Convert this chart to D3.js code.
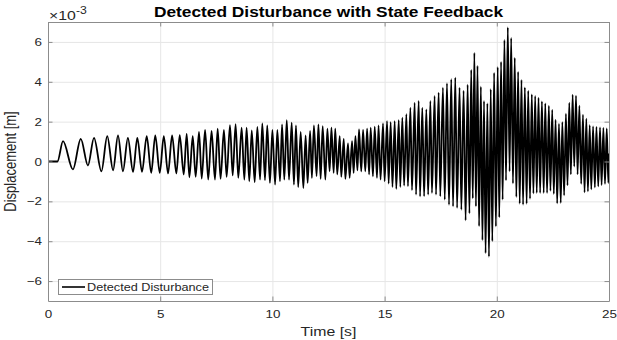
<!DOCTYPE html>
<html>
<head>
<meta charset="utf-8">
<script src="https://cdn.jsdelivr.net/npm/d3@7"></script>
<style>
  body { margin: 0; background: #fff; }
  svg { font-family: "Liberation Sans", Arial, sans-serif; }
</style>
</head>
<body>
<div id="chart"></div>
<script>
// Axis ticks
const xTicks = [0, 5, 10, 15, 20, 25];
const yTicks = [-6, -4, -2, 0, 2, 4, 6];

// Detected disturbance, values in 1e-3 m
// flat start and last sample
const restT = [0, 0.42];
const restV = [0, 0];
const endT = [25];
const endV = [0.4];

// peaks of each oscillation
const peakT = [
  0.67, 1.46, 2.05, 2.64, 3.12, 3.56, 3.98, 4.40, 4.78, 5.16, 5.53, 5.87,
  6.18, 6.45, 6.73, 7.00, 7.29, 7.56, 7.84, 8.11, 8.36, 8.63, 8.85, 9.08, 9.33, 9.55,
  9.77, 10.00, 10.22, 10.43, 10.64, 10.86, 11.05, 11.26, 11.48, 11.68, 11.85, 12.05, 12.24, 12.45,
  12.63, 12.80, 13.00, 13.18, 13.37, 13.55, 13.70, 13.86, 14.04, 14.22, 14.38, 14.56,
  14.73, 14.93, 15.11, 15.27, 15.45, 15.63, 15.79, 15.97, 16.15, 16.34, 16.52, 16.68,
  16.86, 17.04, 17.23, 17.41, 17.60, 17.78, 17.97, 18.15, 18.34, 18.52, 18.70,
  18.86, 19.00, 19.14, 19.29, 19.43, 19.58, 19.73, 19.88, 20.04, 20.19, 20.34, 20.49,
  20.64, 20.80, 20.95, 21.10, 21.25, 21.40, 21.56, 21.71, 21.86, 22.01, 22.16, 22.32,
  22.47, 22.62, 22.77, 22.92, 23.08, 23.23, 23.38, 23.53, 23.68, 23.84, 23.99, 24.14,
  24.29, 24.44, 24.60, 24.75, 24.90
];
const peakV = [
  1.02, 1.14, 1.19, 1.27, 1.31, 1.19, 1.19, 1.27, 1.31, 1.27, 1.31, 1.32,
  1.39, 1.27, 1.49, 1.58, 1.53, 1.65, 1.58, 1.83, 1.88, 1.70, 1.70, 1.56, 1.73, 1.91,
  1.81, 1.58, 1.58, 1.86, 2.08, 1.95, 1.81, 1.49, 1.31, 1.53, 1.81, 1.86, 1.78, 1.65,
  1.70, 1.65, 1.27, 1.14, 0.91, 1.02, 1.27, 1.61, 1.58, 1.65, 1.70, 1.75,
  1.81, 1.91, 2.03, 1.98, 2.03, 2.08, 2.20, 2.37, 2.70, 2.95, 3.04, 2.70,
  2.62, 3.04, 3.29, 3.46, 3.71, 3.93, 4.13, 4.21, 3.71, 3.55, 3.85,
  4.60, 5.45, 4.80, 3.75, 3.04, 2.92, 3.63, 4.45, 4.74, 5.00, 6.10, 6.73,
  6.20, 5.20, 4.50, 4.10, 3.72, 3.55, 3.37, 3.29, 3.20, 3.02, 2.92, 2.80,
  2.60, 2.10, 1.90, 1.98, 2.40, 2.95, 3.35, 3.30, 2.80, 2.35, 2.15, 1.82,
  1.76, 1.74, 1.71, 1.69, 1.66
];

// troughs of each oscillation
const troughT = [
  1.11, 1.78, 2.38, 2.90, 3.34, 3.79, 4.19, 4.60, 4.98, 5.35, 5.72, 6.05,
  6.30, 6.58, 6.85, 7.14, 7.44, 7.69, 7.96, 8.23, 8.48, 8.75, 8.97, 9.21, 9.45, 9.67,
  9.89, 10.12, 10.34, 10.53, 10.74, 10.96, 11.15, 11.38, 11.57, 11.76, 11.97, 12.15, 12.36,
  12.55, 12.73, 12.89, 13.07, 13.25, 13.44, 13.62, 13.79, 13.96, 14.14, 14.31, 14.48,
  14.66, 14.82, 15.00, 15.18, 15.35, 15.52, 15.70, 15.87, 16.04, 16.22, 16.40, 16.58,
  16.76, 16.94, 17.11, 17.29, 17.48, 17.68, 17.87, 18.05, 18.23, 18.42, 18.61, 18.78,
  18.93, 19.07, 19.21, 19.36, 19.50, 19.65, 19.80, 19.96, 20.11, 20.26, 20.41, 20.57,
  20.72, 20.87, 21.02, 21.17, 21.33, 21.48, 21.63, 21.78, 21.93, 22.09, 22.24, 22.39,
  22.54, 22.69, 22.85, 23.00, 23.15, 23.30, 23.45, 23.60, 23.76, 23.91, 24.06, 24.21,
  24.37, 24.52, 24.67, 24.82, 24.97
];
const troughV = [
  -0.40, -0.20, -0.49, -0.44, -0.49, -0.52, -0.52, -0.57, -0.57, -0.60, -0.60, -0.65,
  -0.79, -0.77, -0.86, -0.91, -0.91, -0.87, -0.77, -0.70, -0.82, -0.91, -0.99, -1.04, -0.91, -0.94,
  -1.07, -1.16, -0.99, -0.91, -0.91, -1.16, -1.28, -1.33, -1.07, -0.82, -0.74, -0.87, -0.91,
  -0.49, -0.57, -0.65, -0.77, -0.87, -0.82, -0.57, -0.45, -0.50, -0.49, -0.65, -0.74,
  -0.82, -0.91, -0.99, -1.11, -1.28, -1.37, -1.28, -1.21, -1.24, -1.44, -1.66, -1.75,
  -1.75, -1.66, -1.58, -1.66, -1.75, -1.91, -2.17, -2.25, -2.33, -2.42, -2.95, -2.60,
  -1.85, -2.25, -3.25, -3.95, -4.60, -4.78, -4.00, -3.26, -2.80, -1.91, -0.95, -0.50,
  -1.10, -1.78, -2.12, -2.17, -2.12, -1.87, -1.60, -1.58, -1.58, -1.58, -1.58, -1.47,
  -1.63, -2.10, -2.08, -1.70, -1.20, -0.65, -0.25, -0.65, -1.12, -1.55, -1.50, -1.40,
  -1.30, -1.25, -1.18, -1.12, -1.08
];

const width = 617;
const height = 340;
const margin = { top: 22, right: 8, bottom: 39, left: 48 };
const SX = 1.22;          // the source figure is stretched sideways
const axisColor = "#8c8c8c";
const textColor = "#262626";

const svg = d3.select("#chart")
    .append("svg")
    .attr("width", width)
    .attr("height", height);

const x = d3.scaleLinear().domain([0, 25]).range([margin.left, width - margin.right]);
const y = d3.scaleLinear().domain([-7, 7]).range([height - margin.bottom, margin.top]);
const plotW = x(25) - x(0);
const plotH = y(-7) - y(7);

// grid
svg.append("g")
    .attr("transform", `translate(0,${y(-7)})`)
    .call(d3.axisBottom(x).tickValues(xTicks.slice(1, -1)).tickSize(-plotH).tickFormat(""))
    .call(g => g.select(".domain").remove())
    .selectAll("line").attr("stroke", "#e6e6e6");
svg.append("g")
    .attr("transform", `translate(${x(0)},0)`)
    .call(d3.axisLeft(y).tickValues(yTicks).tickSize(-plotW).tickFormat(""))
    .call(g => g.select(".domain").remove())
    .selectAll("line").attr("stroke", "#e6e6e6");

// merge peaks and troughs into one time series
const points = restT.map((t, i) => ({ t, v: restV[i] }))
    .concat(peakT.map((t, i) => ({ t, v: peakV[i] })))
    .concat(troughT.map((t, i) => ({ t, v: troughV[i] })))
    .concat(endT.map((t, i) => ({ t, v: endV[i] })))
    .sort((a, b) => a.t - b.t);

svg.append("clipPath").attr("id", "plot-clip")
    .append("rect")
    .attr("x", x(0)).attr("y", y(7))
    .attr("width", plotW).attr("height", plotH);

const line = d3.line()
    .x(d => x(d.t))
    .y(d => y(d.v))
    .curve(d3.curveMonotoneX);

svg.append("path")
    .datum(points)
    .attr("clip-path", "url(#plot-clip)")
    .attr("fill", "none")
    .attr("stroke", "#000")
    .attr("stroke-width", 1.8)
    .attr("stroke-linejoin", "round")
    .attr("d", line);

// axes, ticks pointing inward
function styleAxis(g) {
    g.attr("font-family", null).attr("font-size", 11);
    g.select(".domain").attr("stroke", axisColor);
    g.selectAll(".tick line").attr("stroke", axisColor);
    g.selectAll(".tick text").attr("fill", textColor).attr("transform", `scale(${SX},1)`);
}

svg.append("g")
    .attr("transform", `translate(0,${y(-7)})`)
    .call(d3.axisBottom(x).tickValues(xTicks).tickSizeInner(-4.5).tickSizeOuter(0).tickPadding(9))
    .call(styleAxis);
svg.append("g")
    .attr("transform", `translate(0,${y(7)})`)
    .call(d3.axisTop(x).tickValues(xTicks).tickSizeInner(-4.5).tickSizeOuter(0).tickFormat(""))
    .call(styleAxis);
svg.append("g")
    .attr("transform", `translate(${x(0)},0)`)
    .call(d3.axisLeft(y).tickValues(yTicks).tickSizeInner(-4.5).tickSizeOuter(0).tickPadding(5))
    .call(styleAxis);
svg.append("g")
    .attr("transform", `translate(${x(25)},0)`)
    .call(d3.axisRight(y).tickValues(yTicks).tickSizeInner(-4.5).tickSizeOuter(0).tickFormat(""))
    .call(styleAxis);

// exponent label
const expo = svg.append("text")
    .attr("transform", `translate(49,20) scale(${SX},1)`)
    .attr("font-size", 13)
    .attr("fill", textColor)
    .text("\u00d710");
expo.append("tspan")
    .attr("dy", -6)
    .attr("font-size", 10)
    .text("-3");

// title
svg.append("text")
    .attr("transform", `translate(${(x(0) + x(25)) / 2},17) scale(${SX},1)`)
    .attr("text-anchor", "middle")
    .attr("font-size", 14.2)
    .attr("font-weight", "bold")
    .attr("fill", "#000")
    .text("Detected Disturbance with State Feedback");

// axis labels
svg.append("text")
    .attr("transform", `translate(${(x(0) + x(25)) / 2},336) scale(${SX},1)`)
    .attr("text-anchor", "middle")
    .attr("font-size", 13)
    .attr("fill", textColor)
    .text("Time [s]");
svg.append("text")
    .attr("transform", `translate(16,${y(0)}) scale(${SX},1) rotate(-90)`)
    .attr("text-anchor", "middle")
    .attr("font-size", 13)
    .attr("fill", textColor)
    .text("Displacement [m]");

// legend
const legend = svg.append("g");
legend.append("rect")
    .attr("x", 58.5).attr("y", 279.5)
    .attr("width", 154).attr("height", 15)
    .attr("fill", "#fff")
    .attr("stroke", axisColor);
legend.append("line")
    .attr("x1", 62).attr("x2", 85)
    .attr("y1", 287).attr("y2", 287)
    .attr("stroke", "#000")
    .attr("stroke-width", 1.6);
legend.append("text")
    .attr("transform", `translate(87,291) scale(${SX},1)`)
    .attr("font-size", 10.4)
    .attr("fill", textColor)
    .text("Detected Disturbance");
</script>
</body>
</html>
